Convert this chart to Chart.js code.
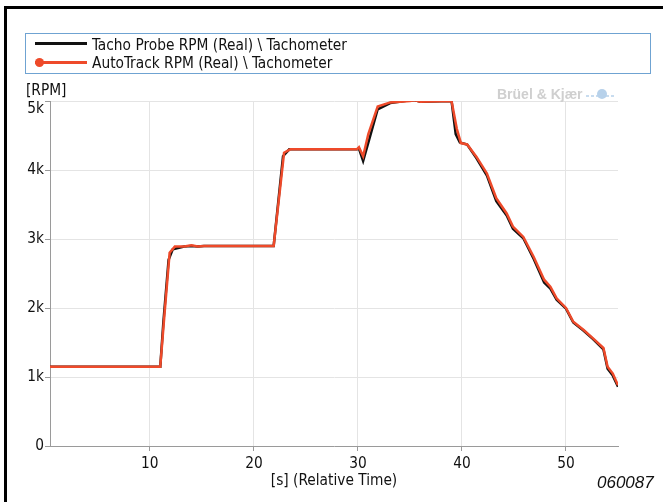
<!DOCTYPE html>
<html>
<head>
<meta charset="utf-8">
<script src="https://cdn.jsdelivr.net/npm/chart.js@4"></script>
<style>
  body { margin: 0; background: #fff; }
  #wrap { position: relative; width: 663px; height: 502px; overflow: hidden; font-family: "DejaVu Sans Condensed", "Liberation Sans Narrow", sans-serif; color: #111; }
  #frame { position: absolute; left: 4px; top: 6px; width: 670px; height: 600px; border-left: 3px solid #000; border-top: 3px solid #000; }
  #chart { position: absolute; left: 0; top: 0; }
  #legend { position: absolute; left: 25px; top: 33px; width: 624px; height: 39px; border: 1.5px solid #6fa3d2; }
  .item { position: absolute; left: 66px; font-size: 15.3px; line-height: 20px; white-space: nowrap; }
  .swatch { position: absolute; left: 9px; width: 52px; height: 3px; }
  .dot { position: absolute; left: 9px; width: 9px; height: 9px; border-radius: 50%; background: #ee4a2a; }
  #ytitle { position: absolute; left: 26px; top: 80px; font-size: 15.3px; line-height: 20px; }
  #code { position: absolute; left: 597px; top: 473px; font-family: "Liberation Sans", Arial, sans-serif; font-style: italic; font-size: 17px; line-height: 20px; }
  #mark { position: absolute; left: 497px; top: 86px; font-family: "Liberation Sans", Arial, sans-serif; font-weight: bold; font-size: 14px; line-height: 16px; color: #cfcfcf; white-space: nowrap; }
  #mark svg { vertical-align: -2px; margin-left: 2px; }
</style>
</head>
<body>
<div id="wrap">
  <div id="frame"></div>
  <canvas id="chart" width="663" height="502"></canvas>
  <div id="legend">
    <div class="swatch" style="top: 8px; background: #111;"></div>
    <div class="item" style="top: 1px;">Tacho Probe RPM (Real) \ Tachometer</div>
    <div class="swatch" style="top: 27px; background: #ee4a2a;"></div>
    <div class="dot" style="top: 24px;"></div>
    <div class="item" style="top: 19px;">AutoTrack RPM (Real) \ Tachometer</div>
  </div>
  <div id="ytitle">[RPM]</div>
  <div id="mark">Brüel &amp; Kjær<svg width="30" height="14" viewBox="0 0 30 14"><line x1="1" y1="9" x2="29" y2="9" stroke="#b7d1ea" stroke-width="1.5" stroke-dasharray="3 2"/><circle cx="17" cy="7" r="5" fill="#b7d1ea"/></svg></div>
  <div id="code">060087</div>
</div>
<script>
// Tacho probe (black)
const tachoTime = [0.4, 11.0, 11.3, 11.8, 12.2, 13.3, 14.0, 14.6, 15.2, 21.9, 22.8, 23.4, 29.9, 30.1, 30.5, 31.1, 31.9, 33.1, 35.0, 35.5, 36.0, 39.0, 39.4, 39.8, 40.5, 41.4, 42.4, 43.3, 44.3, 44.9, 45.9, 46.9, 47.9, 48.5, 49.1, 50.0, 50.7, 51.7, 52.6, 53.6, 54.0, 54.5, 55.0];
const tachoRpm = [1150, 1150, 1800, 2700, 2850, 2890, 2900, 2890, 2900, 2900, 4200, 4300, 4300, 4310, 4130, 4450, 4880, 4970, 5010, 5010, 4990, 5000, 4520, 4400, 4370, 4170, 3920, 3550, 3340, 3150, 3010, 2710, 2370, 2280, 2120, 1990, 1790, 1670, 1550, 1400, 1120, 1020, 860];

// AutoTrack (red)
const autoTime = [0.4, 11.0, 11.4, 11.9, 12.4, 13.3, 14.0, 14.6, 15.2, 21.9, 22.9, 23.5, 29.9, 30.1, 30.5, 31.0, 31.9, 33.1, 35.0, 35.5, 36.0, 39.0, 39.5, 39.9, 40.5, 41.4, 42.4, 43.3, 44.3, 44.9, 45.9, 46.9, 47.9, 48.5, 49.1, 50.0, 50.7, 51.7, 52.6, 53.6, 54.0, 54.5, 55.0];
const autoRpm = [1150, 1150, 1900, 2800, 2890, 2890, 2910, 2890, 2900, 2900, 4250, 4300, 4300, 4330, 4200, 4520, 4920, 4980, 5000, 5010, 4990, 5000, 4600, 4390, 4370, 4190, 3950, 3590, 3370, 3180, 3030, 2740, 2410, 2310, 2140, 2000, 1800, 1680, 1560, 1420, 1150, 1050, 880];

const yTicks = [0, 1000, 2000, 3000, 4000, 5000];
const yTickLabels = ['0', '1k', '2k', '3k', '4k', ['', '5k']];

function toPoints(xs, ys) {
    return xs.map((x, i) => ({ x: x, y: ys[i] }));
}

const tickFont = { family: '"DejaVu Sans Condensed", "Liberation Sans Narrow", sans-serif', size: 15.3, lineHeight: 1 };

const ctx = document.getElementById('chart').getContext('2d');
new Chart(ctx, {
    type: 'line',
    data: {
        datasets: [
            {
                label: 'AutoTrack RPM (Real) \\ Tachometer',
                data: toPoints(autoTime, autoRpm),
                borderColor: '#ee4a2a',
                borderWidth: 2.5,
                pointRadius: 0,
                tension: 0,
                order: 1
            },
            {
                label: 'Tacho Probe RPM (Real) \\ Tachometer',
                data: toPoints(tachoTime, tachoRpm),
                borderColor: '#111',
                borderWidth: 2.5,
                pointRadius: 0,
                tension: 0,
                order: 2
            }
        ]
    },
    options: {
        responsive: false,
        animation: false,
        layout: { padding: { left: 0, top: 101, right: 45, bottom: 0 } },
        plugins: { legend: { display: false }, tooltip: { enabled: false } },
        scales: {
            x: {
                type: 'linear',
                min: 0.4,
                max: 55,
                afterFit: (scale) => { scale.height = 56; },
                border: { color: '#9a9a9a', width: 1 },
                grid: { color: '#e4e4e4', tickColor: '#9a9a9a', tickLength: 5 },
                ticks: { stepSize: 10, includeBounds: false, color: '#111', font: tickFont, padding: 5, maxRotation: 0 },
                title: { display: true, text: '[s] (Relative Time)', color: '#111', font: tickFont, padding: { top: 0, bottom: 13 } }
            },
            y: {
                min: 0,
                max: 5000,
                afterFit: (scale) => { scale.width = 50; },
                border: { color: '#9a9a9a', width: 1 },
                grid: { color: '#e4e4e4', tickColor: '#9a9a9a', tickLength: 5 },
                afterBuildTicks: (scale) => { scale.ticks = yTicks.map(v => ({ value: v })); },
                ticks: {
                    color: '#111',
                    font: tickFont,
                    padding: 1,
                    callback: (v) => yTickLabels[yTicks.indexOf(v)]
                }
            }
        }
    }
});
</script>
</body>
</html>
